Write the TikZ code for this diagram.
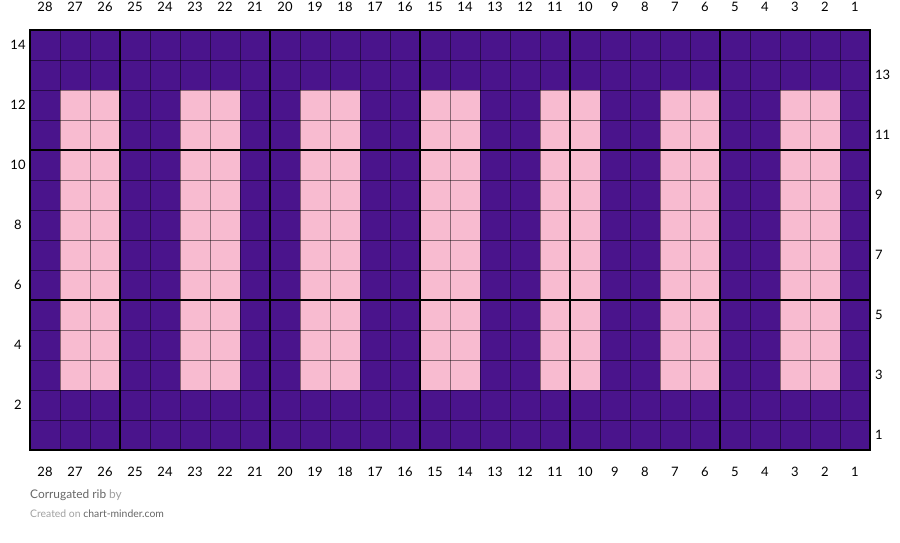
\documentclass[tikz,border=0pt]{standalone}
\usepackage{fontspec}
\setmainfont{Lato}
\usetikzlibrary{positioning}
\definecolor{rib}{HTML}{4A148C}
\definecolor{pinkrib}{HTML}{F8BBD0}
\definecolor{footgray}{HTML}{666666}
\definecolor{lightgray}{HTML}{A0A0A0}
\tikzset{
  numlabel/.style={font=\fontsize{13}{15}\selectfont, inner sep=0pt},
  thinline/.style={draw=black, draw opacity=0.45, line width=0.8pt},
  thickline/.style={draw=black, line width=1.8pt},
}
\begin{document}
\begin{tikzpicture}[x=1pt, y=-1pt]
	\useasboundingbox (0,0) rectangle (900,543);
	% background and stitches
	\fill[rib] (30,30) rectangle (870,450);
	\foreach \k in {0,...,6}
		\fill[pinkrib] ({780-120*\k},90) rectangle ({840-120*\k},390);
	% grid
	\foreach \x in {60,90,...,840}
		\draw[thinline] (\x,30) -- (\x,450);
	\foreach \y in {60,90,...,420}
		\draw[thinline] (30,\y) -- (870,\y);
	\foreach \x in {120,270,420,570,720}
		\draw[thickline] (\x,30) -- (\x,450);
	\foreach \y in {150,300}
		\draw[thickline] (30,\y) -- (870,\y);
	\draw[line width=2.5pt] (30,30) rectangle (870,450);
	% column numbers
	\foreach \c in {1,...,28} {
		\node[numlabel] (top\c) at ({855-30*(\c-1)},7) {\c};
		\node[numlabel] (bot\c) at ({855-30*(\c-1)},472) {\c};
	}
	% row numbers
	\foreach \r in {2,4,...,14}
		\node[numlabel] (left\r) at (18,{465-30*\r}) {\r};
	\foreach \r in {1,3,...,13}
		\node[numlabel, anchor=west] (right\r) at (875,{465-30*\r}) {\r};
	% footer
	\node[anchor=base west, inner sep=0pt, font=\fontsize{11.9}{14}\selectfont] (title) at (30,498)
		{\textcolor{footgray}{Corrugated rib} \textcolor{lightgray}{by}};
	\node[anchor=base west, inner sep=0pt, font=\fontsize{10.4}{12}\selectfont] (credit) at (30,517)
		{\textcolor{lightgray}{Created on} \textcolor{footgray}{chart-minder.com}};
\end{tikzpicture}
\end{document}
